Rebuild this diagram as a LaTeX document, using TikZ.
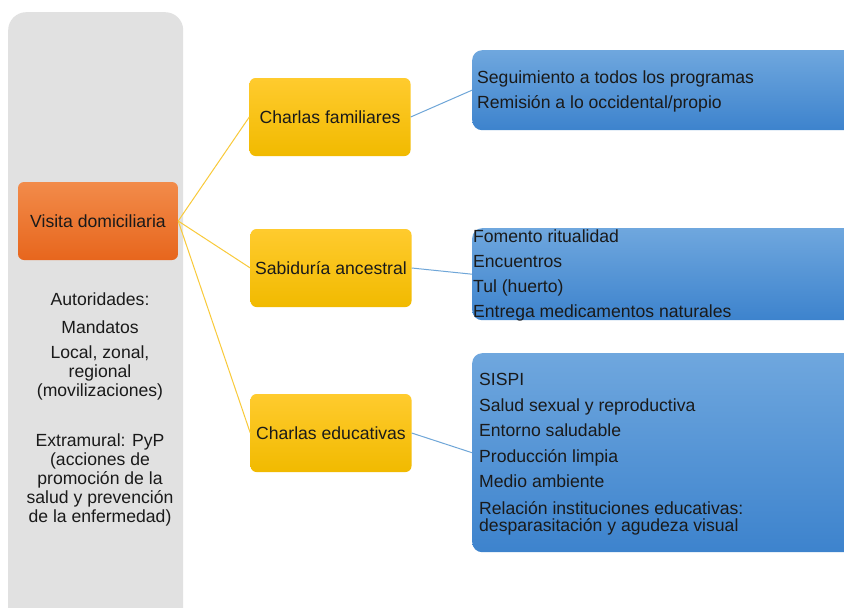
\documentclass[tikz,border=0pt]{standalone}
\usepackage{fontspec}
\setmainfont{Liberation Sans}
\definecolor{panelgray}{HTML}{E1E1E1}
\definecolor{orTop}{HTML}{F28B4A}
\definecolor{orBot}{HTML}{E7661D}
\definecolor{yeTop}{HTML}{FFCB2E}
\definecolor{yeBot}{HTML}{F1BA00}
\definecolor{blTop}{HTML}{6FA7DE}
\definecolor{blBot}{HTML}{3D83CD}
\definecolor{yline}{HTML}{F9CA3A}
\definecolor{bline}{HTML}{6FA6D8}
\definecolor{txt}{HTML}{1A1A1A}
\begin{document}
\begin{tikzpicture}[x=1pt,y=-1pt,
  every node/.style={text=txt},
  orangebox/.style={rounded corners=6pt, top color=orTop, bottom color=orBot, minimum width=160pt, minimum height=78pt, inner sep=0pt, font=\fontsize{17.6}{20}\selectfont},
  yellowbox/.style={rounded corners=6pt, top color=yeTop, bottom color=yeBot, minimum width=161pt, minimum height=78pt, inner sep=0pt, font=\fontsize{17.6}{20}\selectfont},
  bluebox/.style={rounded corners=10pt, top color=blTop, bottom color=blBot, minimum width=400pt, anchor=north west, inner sep=0pt},
  bluetext/.style={anchor=west, align=left, inner sep=0pt, font=\fontsize{17.6}{17}\selectfont},
  yconn/.style={draw=yline, line width=1pt},
  bconn/.style={draw=bline, line width=1pt}
]
\clip (0,0) rectangle (844,608);
\fill[white] (0,0) rectangle (844,608);
% left panel
\node[fill=panelgray, rounded corners=18pt, minimum width=175pt, minimum height=620pt, anchor=north west, inner sep=0pt] (panel) at (8,12) {};
\node[orangebox] (visita) at (98,221) {Visita domiciliaria};
\node[align=center, inner sep=0pt, font=\fontsize{17.6}{19}\selectfont, anchor=north] (ptext) at (100,293)
 {Autoridades:\\[9pt]Mandatos\\[6pt]Local, zonal,\\regional\\(movilizaciones)\\[31pt]Extramural: PyP\\(acciones de\\promoción de la\\salud y prevención\\de la enfermedad)};
% middle nodes
\node[yellowbox] (cf) at (330,117) {Charlas familiares};
\node[yellowbox] (sa) at (331,268) {Sabiduría ancestral};
\node[yellowbox] (ce) at (331,433) {Charlas educativas};
% blue boxes
\node[bluebox, minimum height=80pt] (b1) at (472,50) {};
\node[bluebox, minimum height=92pt] (b2) at (472,228) {};
\node[bluebox, minimum height=199pt] (b3) at (472,353) {};
% connectors
\draw[yconn] (visita.east) -- (cf.west);
\draw[yconn] (visita.east) -- (sa.west);
\draw[yconn] (visita.east) -- (ce.west);
\draw[bconn] (cf.east) -- (b1.west);
\draw[bconn] (sa.east) -- (b2.west);
\draw[bconn] (ce.east) -- (b3.west);
% blue texts
\node[bluetext] (t1) at (477,91) {Seguimiento a todos los programas\\[8pt]Remisión a lo occidental/propio};
\node[bluetext] (t2) at (473,275) {Fomento ritualidad\\[8pt]Encuentros\\[8pt]Tul (huerto)\\[8pt]Entrega medicamentos naturales};
\node[bluetext] (t3) at (479,454) {SISPI\\[9pt]Salud sexual y reproductiva\\[8pt]Entorno saludable\\[9pt]Producción limpia\\[8pt]Medio ambiente\\[10pt]Relación instituciones educativas:\\desparasitación y agudeza visual};
\end{tikzpicture}
\end{document}
